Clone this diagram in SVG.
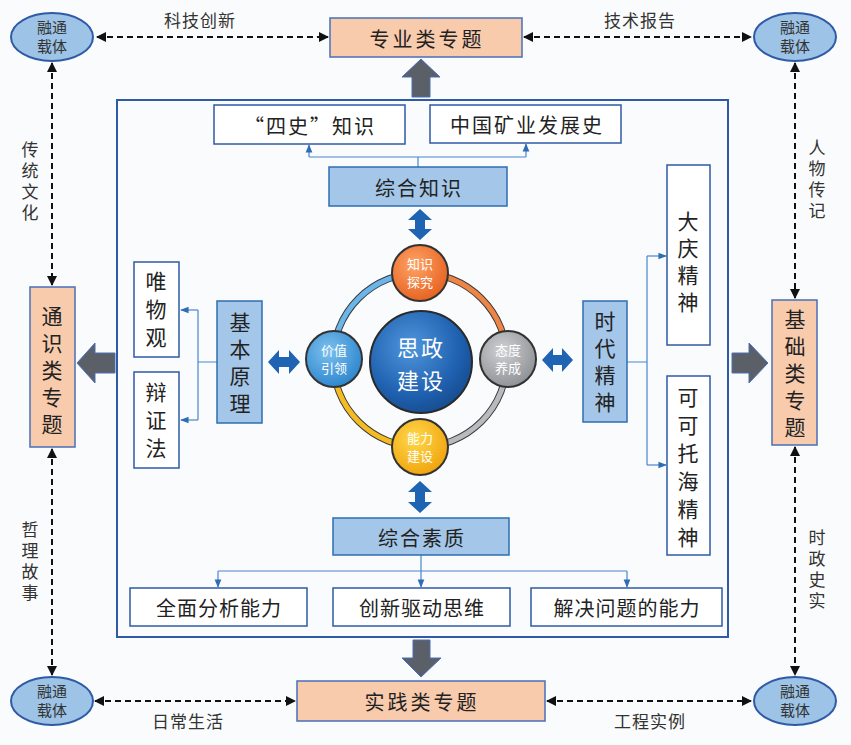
<svg xmlns="http://www.w3.org/2000/svg" width="851" height="745" viewBox="0 0 851 745">
<defs>
<style>
text{font-family:"Noto Sans CJK SC","Liberation Sans",sans-serif;fill:#222;}
.t{font-size:20px;text-anchor:middle;dominant-baseline:central;}
.v{font-size:21px;text-anchor:middle;dominant-baseline:central;writing-mode:vertical-rl;letter-spacing:6px;}
.s{font-size:17px;text-anchor:middle;dominant-baseline:central;fill:#333;}
.sv{font-size:17px;text-anchor:middle;dominant-baseline:central;fill:#333;writing-mode:vertical-rl;letter-spacing:4px;}
.e{font-size:15px;text-anchor:middle;fill:#333;}
.peach{fill:#f8cbad;stroke:#4a6fb8;stroke-width:1.5;}
.lb{fill:#a4c6e8;stroke:#2e6db4;stroke-width:1.5;}
.wb{fill:#fff;stroke:#2f5aa6;stroke-width:1.5;}
.ell{fill:#9dc3e6;stroke:#2f5aa6;stroke-width:2;}
.dash{stroke:#111;stroke-width:2;stroke-dasharray:6 4;fill:none;marker-end:url(#ah);marker-start:url(#ahs);}
.thin{stroke:#4a86d0;stroke-width:1.2;fill:none;}
.thinA{stroke:#4a86d0;stroke-width:1.2;fill:none;marker-end:url(#ba);}
.grey{fill:#5b6068;stroke:#4a6fb8;stroke-width:1;}
.dbl{fill:#1f63b3;}
.ct{font-size:13px;text-anchor:middle;fill:#fff;}
.cc{font-size:22px;text-anchor:middle;dominant-baseline:central;fill:#fff;}
</style>
<marker id="ah" viewBox="0 0 10 10" refX="9" refY="5" markerWidth="5" markerHeight="5" orient="auto"><path d="M0,0 L10,5 L0,10 Z" fill="#111"/></marker>
<marker id="ahs" viewBox="0 0 10 10" refX="1" refY="5" markerWidth="5" markerHeight="5" orient="auto"><path d="M10,0 L0,5 L10,10 Z" fill="#111"/></marker>
<marker id="ba" viewBox="0 0 10 10" refX="9" refY="5" markerWidth="7" markerHeight="7" orient="auto"><path d="M0,1 L10,5 L0,9 Z" fill="#2e6db4"/></marker>
<radialGradient id="gBlue" cx="0.4" cy="0.35" r="0.7"><stop offset="0" stop-color="#4f96dc"/><stop offset="0.7" stop-color="#1e5fae"/><stop offset="1" stop-color="#164b8c"/></radialGradient>
<radialGradient id="gOrange" cx="0.4" cy="0.35" r="0.7"><stop offset="0" stop-color="#ffa366"/><stop offset="1" stop-color="#e5601e"/></radialGradient>
<radialGradient id="gLB" cx="0.4" cy="0.35" r="0.7"><stop offset="0" stop-color="#7cc0ef"/><stop offset="1" stop-color="#2a84cc"/></radialGradient>
<radialGradient id="gGray" cx="0.4" cy="0.35" r="0.7"><stop offset="0" stop-color="#cfd1d4"/><stop offset="1" stop-color="#8c8f93"/></radialGradient>
<radialGradient id="gYel" cx="0.4" cy="0.35" r="0.7"><stop offset="0" stop-color="#ffd84a"/><stop offset="1" stop-color="#f0a20c"/></radialGradient>
</defs>
<rect width="851" height="745" fill="#fafbfc"/>

<g id="connectors">
<line class="dash" x1="97" y1="37" x2="328" y2="37"/>
<line class="dash" x1="524" y1="37" x2="751" y2="37"/>
<line class="dash" x1="95" y1="701" x2="295" y2="701"/>
<line class="dash" x1="547" y1="701" x2="751" y2="701"/>
<line class="dash" x1="52" y1="63" x2="52" y2="285"/>
<line class="dash" x1="52" y1="449" x2="52" y2="675"/>
<line class="dash" x1="795" y1="63" x2="795" y2="298"/>
<line class="dash" x1="795" y1="447" x2="795" y2="675"/>
<path class="grey" d="M421,59 L440,77 L430,77 L430,97 L412,97 L412,77 L402,77 Z"/>
<path class="grey" d="M421,677 L441,658 L430,658 L430,640 L413,640 L413,658 L402,658 Z"/>
<path class="grey" d="M77,363 L95,343 L95,353 L115,353 L115,373 L95,373 L95,383 Z"/>
<path class="grey" d="M768,363 L749,343 L749,353 L732,353 L732,373 L749,373 L749,383 Z"/>
<path class="dbl" d="M420,209 L432,220 L425,220 L425,229 L432,229 L420,240 L408,229 L415,229 L415,220 L408,220 Z"/>
<path class="dbl" d="M420,481 L432,492 L425,492 L425,502 L432,502 L420,513 L408,502 L415,502 L415,492 L408,492 Z"/>
<path class="dbl" d="M268,362 L279,350 L279,357 L289,357 L289,350 L300,362 L289,374 L289,367 L279,367 L279,374 Z"/>
<path class="dbl" d="M542,360 L553,348 L553,355 L562,355 L562,348 L573,360 L562,372 L562,365 L553,365 L553,372 Z"/>
<path class="thin" d="M418,167 V157 M309,157 H526"/>
<path class="thinA" d="M309,157 V145"/>
<path class="thinA" d="M526,157 V144"/>
<path class="thin" d="M217,362 H198 M198,310 V420"/>
<path class="thinA" d="M198,310 H181"/>
<path class="thinA" d="M198,420 H181"/>
<path class="thin" d="M627,362 H647 M647,256 V465"/>
<path class="thinA" d="M647,256 H666"/>
<path class="thinA" d="M647,465 H666"/>
<path class="thin" d="M421,555 V571 M218,571 H627"/>
<path class="thinA" d="M218,571 V587"/>
<path class="thinA" d="M421,571 V587"/>
<path class="thinA" d="M627,571 V587"/>
</g>

<g id="ell-tl"><ellipse class="ell" cx="52" cy="37" rx="41" ry="24"/><text class="e" x="52" y="33">融通<tspan x="52" dy="19">载体</tspan></text></g>
<g id="ell-tr"><ellipse class="ell" cx="795" cy="37" rx="41" ry="24"/><text class="e" x="795" y="33">融通<tspan x="795" dy="19">载体</tspan></text></g>
<g id="ell-bl"><ellipse class="ell" cx="52" cy="701" rx="41" ry="24"/><text class="e" x="52" y="697">融通<tspan x="52" dy="19">载体</tspan></text></g>
<g id="ell-br"><ellipse class="ell" cx="795" cy="701" rx="41" ry="24"/><text class="e" x="795" y="697">融通<tspan x="795" dy="19">载体</tspan></text></g>

<g id="labels">
<text class="s" x="200" y="19" letter-spacing="1">科技创新</text>
<text class="s" x="640" y="19" letter-spacing="1">技术报告</text>
<text class="s" x="188" y="720" letter-spacing="1">日常生活</text>
<text class="s" x="650" y="720" letter-spacing="1">工程实例</text>
<text class="sv" x="30" y="183">传统文化</text>
<text class="sv" x="30" y="563">哲理故事</text>
<text class="sv" x="817" y="181">人物传记</text>
<text class="sv" x="817" y="571">时政史实</text>
</g>

<g id="zhuanye"><rect class="peach" x="330" y="18" width="192" height="39"/><text class="t" x="427" y="38" letter-spacing="3">专业类专题</text></g>
<g id="shijian"><rect class="peach" x="297" y="681" width="248" height="40"/><text class="t" x="422" y="701" letter-spacing="3">实践类专题</text></g>
<g id="tongshi"><rect class="peach" x="30" y="287" width="45" height="160"/><text class="v" x="52" y="373">通识类专题</text></g>
<g id="jichu"><rect class="peach" x="772" y="300" width="45" height="145"/><text class="v" x="795" y="376">基础类专题</text></g>

<g id="frame"><rect x="117" y="100" width="611" height="537" fill="none" stroke="#2f5aa6" stroke-width="2"/></g>

<g id="sishi"><rect class="wb" x="214" y="105" width="191" height="39"/><text class="t" x="310" y="125" letter-spacing="2">“四史”知识</text></g>
<g id="kuangye"><rect class="wb" x="430" y="105" width="191" height="38"/><text class="t" x="527" y="124" letter-spacing="2">中国矿业发展史</text></g>
<g id="zonghezhishi"><rect class="lb" x="329" y="167" width="178" height="39"/><text class="t" x="419" y="187" letter-spacing="2">综合知识</text></g>
<g id="zonghesuzhi"><rect class="lb" x="333" y="518" width="176" height="37"/><text class="t" x="422" y="537" letter-spacing="2">综合素质</text></g>
<g id="quanmian"><rect class="wb" x="130" y="588" width="177" height="38"/><text class="t" x="219" y="607" letter-spacing="1">全面分析能力</text></g>
<g id="chuangxin"><rect class="wb" x="333" y="588" width="177" height="38"/><text class="t" x="422" y="607" letter-spacing="1">创新驱动思维</text></g>
<g id="jiejue"><rect class="wb" x="531" y="588" width="191" height="38"/><text class="t" x="627" y="607" letter-spacing="1">解决问题的能力</text></g>

<g id="jiben"><rect class="lb" x="217" y="301" width="45" height="122"/><text class="v" x="240" y="366">基本原理</text></g>
<g id="weiwu"><rect class="wb" x="134" y="262" width="45" height="95"/><text class="v" x="156" y="313" style="letter-spacing:7px">唯物观</text></g>
<g id="bianzheng"><rect class="wb" x="134" y="372" width="45" height="96"/><text class="v" x="156" y="424" style="letter-spacing:7px">辩证法</text></g>
<g id="shidai"><rect class="lb" x="583" y="301" width="44" height="121"/><text class="v" x="605" y="365">时代精神</text></g>
<g id="daqing"><rect class="wb" x="667" y="165" width="43" height="180"/><text class="v" x="688" y="265">大庆精神</text></g>
<g id="keketuohai"><rect class="wb" x="667" y="376" width="43" height="179"/><text class="v" x="688" y="471" style="letter-spacing:7px">可可托海精神</text></g>

<g id="ring">
<circle cx="420" cy="360" r="87" fill="none" stroke="#3a3a3a" stroke-width="7"/>
<path d="M333,360 A87,87 0 0 1 420,273" fill="none" stroke="#6ab6ea" stroke-width="5"/>
<path d="M420,273 A87,87 0 0 1 507,360" fill="none" stroke="#ef8545" stroke-width="5"/>
<path d="M507,360 A87,87 0 0 1 420,447" fill="none" stroke="#b8bbbe" stroke-width="5"/>
<path d="M420,447 A87,87 0 0 1 333,360" fill="none" stroke="#f4bb22" stroke-width="5"/>
</g>
<g id="sizheng"><circle cx="421" cy="362" r="51" fill="url(#gBlue)" stroke="#2a2a2a" stroke-width="2"/>
<text class="cc" x="421" y="346" letter-spacing="2">思政</text>
<text class="cc" x="421" y="379" letter-spacing="2">建设</text></g>
<g id="zhishi"><circle cx="420" cy="273" r="28" fill="url(#gOrange)" stroke="#333" stroke-width="2"/>
<text class="ct" x="420" y="269">知识<tspan x="420" dy="18">探究</tspan></text></g>
<g id="jiazhi"><circle cx="334" cy="359" r="28" fill="url(#gLB)" stroke="#333" stroke-width="2"/>
<text class="ct" x="334" y="355">价值<tspan x="334" dy="18">引领</tspan></text></g>
<g id="taidu"><circle cx="508" cy="359" r="28" fill="url(#gGray)" stroke="#333" stroke-width="2"/>
<text class="ct" x="508" y="355">态度<tspan x="508" dy="18">养成</tspan></text></g>
<g id="nengli"><circle cx="420" cy="447" r="28" fill="url(#gYel)" stroke="#333" stroke-width="2"/>
<text class="ct" x="420" y="443">能力<tspan x="420" dy="18">建设</tspan></text></g>
</svg>
